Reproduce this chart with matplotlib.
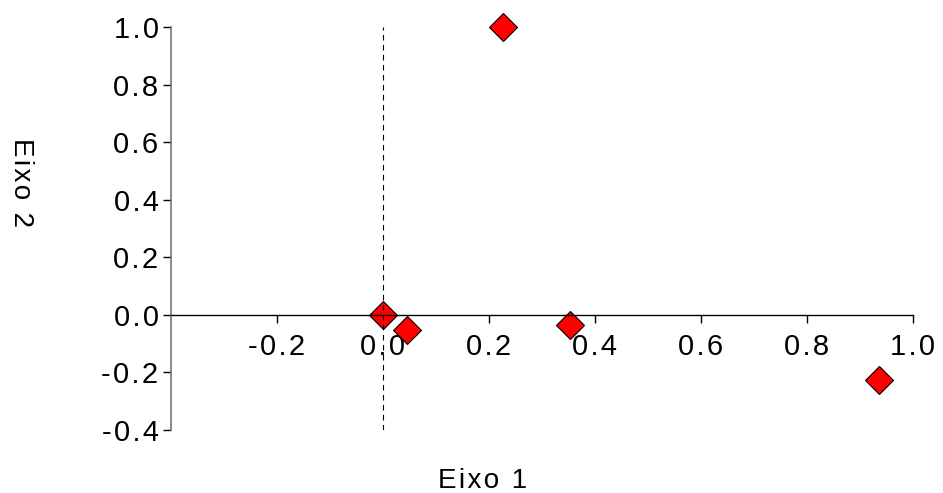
import matplotlib
matplotlib.use("Agg")
import matplotlib.pyplot as plt

# coordenadas das amostras (eixo 1, eixo 2)
eixo1 = [0.0, 0.045, 0.226, 0.353, 0.936]
eixo2 = [0.0, -0.052, 1.0, -0.035, -0.226]

xticks = [-0.2, 0.0, 0.2, 0.4, 0.6, 0.8, 1.0]
yticks = [-0.4, -0.2, 0.0, 0.2, 0.4, 0.6, 0.8, 1.0]

plt.rcParams["font.family"] = ["Liberation Sans", "DejaVu Sans"]


def espacado(txt, sep="\u200a"):
    # o original tem letras mais afastadas
    return sep.join(txt)


fig = plt.figure(figsize=(9.43, 4.93), dpi=100)
ax = fig.add_axes([171 / 943, 1 - 430 / 493, (913 - 171) / 943, (430 - 27) / 493])

ax.plot(eixo1, eixo2, linestyle="none", marker="D", markersize=14,
        markerfacecolor="#ff0000", markeredgecolor="black", markeredgewidth=0.8,
        clip_on=False, zorder=2)

ax.axvline(0, ymin=0, ymax=1, color="black", linestyle=(0, (5, 4)),
           linewidth=0.8, zorder=3)

ax.set_xlim(-0.4, 1.0)
ax.set_ylim(-0.4, 1.0)

# eixo x passando por y=0
ax.spines["bottom"].set_position(("data", 0))
ax.spines["bottom"].set_color("black")
ax.spines["bottom"].set_linewidth(1.0)
ax.spines["left"].set_color("#777777")
ax.spines["left"].set_linewidth(1.2)
ax.spines["top"].set_visible(False)
ax.spines["right"].set_visible(False)

ax.set_xticks(xticks)
ax.set_xticklabels([espacado(f"{v:.1f}") for v in xticks])
ax.set_yticks(yticks)
ax.set_yticklabels([espacado(f"{v:.1f}") for v in yticks])
ax.tick_params(axis="x", direction="out", length=6, width=1, pad=7,
               labelsize=21, color="black")
ax.tick_params(axis="y", direction="out", length=6, width=1, pad=3,
               labelsize=21, color="black")

fig.text(483 / 943, 1 - 481 / 493, espacado("Eixo 1"),
         ha="center", va="center", fontsize=20)
fig.text(21 / 943, 1 - 183 / 493, espacado("Eixo 2"),
         ha="center", va="center", rotation=-90, fontsize=20)

fig.savefig("out.png", dpi=100)
